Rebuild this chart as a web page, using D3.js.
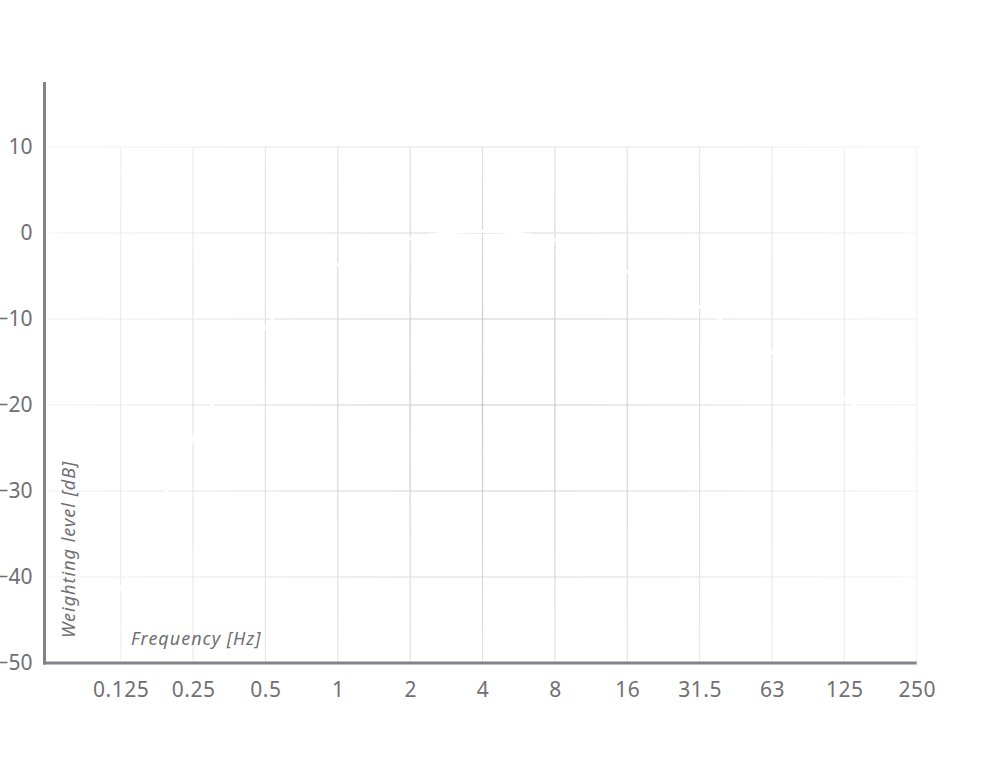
<!DOCTYPE html>
<html>
<head>
<meta charset="utf-8">
<script src="https://cdn.jsdelivr.net/npm/d3@7"></script>
<style>
  body { margin: 0; background: #fff; }
  text { font-family: "Noto Sans", "Open Sans", sans-serif; }
</style>
</head>
<body>
<div id="chart"></div>
<script>
// octave band labels on the x axis
var bands = ["0.125", "0.25", "0.5", "1", "2", "4", "8", "16", "31.5", "63", "125", "250"];
// weighting level per band (dB)
var levels = [-41.6, -23.9, -11.0, -3.7, -0.6, 0.2, -0.8, -4.5, -8.6, -13.9, -19.3, -24.5];
var yTicks = [10, 0, -10, -20, -30, -40, -50];

var width = 1000, height = 758;
var plotLeft = 44.5, plotRight = 916.7, plotTop = 82, plotBottom = 663;

var svg = d3.select("#chart")
  .append("svg")
    .attr("width", width)
    .attr("height", height);

var x = d3.scalePoint()
  .domain(bands)
  .range([120.7, 916.7]);

var y = d3.scaleLinear()
  .domain([-50, 10])
  .range([plotBottom, 147]);

// grid fades out away from the middle
var defs = svg.append("defs");
var grad = defs.append("radialGradient")
  .attr("id", "gridFade")
  .attr("gradientUnits", "userSpaceOnUse")
  .attr("cx", 482).attr("cy", 400).attr("r", 470);
grad.append("stop").attr("offset", "0%").attr("stop-color", "#c6c6c6");
grad.append("stop").attr("offset", "55%").attr("stop-color", "#e2e2e2");
grad.append("stop").attr("offset", "100%").attr("stop-color", "#f3f3f3");

defs.append("clipPath").attr("id", "plot")
  .append("rect")
    .attr("x", plotLeft).attr("y", plotTop)
    .attr("width", plotRight - plotLeft).attr("height", plotBottom - plotTop);

// horizontal grid
svg.append("g")
  .selectAll("line")
  .data(yTicks.filter(d => d > -50))
  .enter()
  .append("line")
    .attr("x1", plotLeft).attr("x2", plotRight)
    .attr("y1", d => y(d)).attr("y2", d => y(d))
    .attr("stroke", "url(#gridFade)")
    .attr("stroke-width", 1.2);

// vertical grid
svg.append("g")
  .selectAll("line")
  .data(bands)
  .enter()
  .append("line")
    .attr("x1", d => x(d)).attr("x2", d => x(d))
    .attr("y1", y(10)).attr("y2", y(-50))
    .attr("stroke", "url(#gridFade)")
    .attr("stroke-width", 1.2);

// weighting curve (white)
var line = d3.line()
  .x((d, i) => x(bands[i]))
  .y(d => y(d))
  .curve(d3.curveMonotoneX);

svg.append("path")
  .datum(levels)
  .attr("clip-path", "url(#plot)")
  .attr("fill", "none")
  .attr("stroke", "#ffffff")
  .attr("stroke-width", 3)
  .attr("d", line);

// axes
var xAxis = svg.append("g")
  .attr("transform", "translate(0," + plotBottom + ")")
  .call(d3.axisBottom(x).tickSize(0).tickPadding(19));
xAxis.select(".domain").remove();
xAxis.selectAll("text")
  .attr("fill", "#6f6f74")
  .style("font-size", "21px")
  .style("letter-spacing", "0.5px");

var yAxis = svg.append("g")
  .attr("transform", "translate(" + plotLeft + ",0)")
  .call(d3.axisLeft(y).tickValues(yTicks).tickSize(0).tickPadding(12)
    .tickFormat(d3.format("d")));
yAxis.select(".domain").remove();
yAxis.selectAll("text")
  .attr("fill", "#6f6f74")
  .style("font-size", "21px");

svg.append("line")
  .attr("x1", plotLeft).attr("x2", plotLeft)
  .attr("y1", plotTop).attr("y2", plotBottom + 1.5)
  .attr("stroke", "#838388")
  .attr("stroke-width", 3);

svg.append("line")
  .attr("x1", plotLeft - 1.5).attr("x2", plotRight)
  .attr("y1", plotBottom).attr("y2", plotBottom)
  .attr("stroke", "#838388")
  .attr("stroke-width", 3);

// axis titles
svg.append("text")
  .attr("x", 131)
  .attr("y", 645)
  .attr("fill", "#6f6f74")
  .style("font-size", "18px")
  .style("letter-spacing", "1px")
  .style("font-style", "italic")
  .text("Frequency [Hz]");

svg.append("text")
  .attr("transform", "translate(75,638)rotate(-90)")
  .attr("fill", "#6f6f74")
  .style("font-size", "18px")
  .style("letter-spacing", "1px")
  .style("font-style", "italic")
  .text("Weighting level [dB]");
</script>
</body>
</html>
